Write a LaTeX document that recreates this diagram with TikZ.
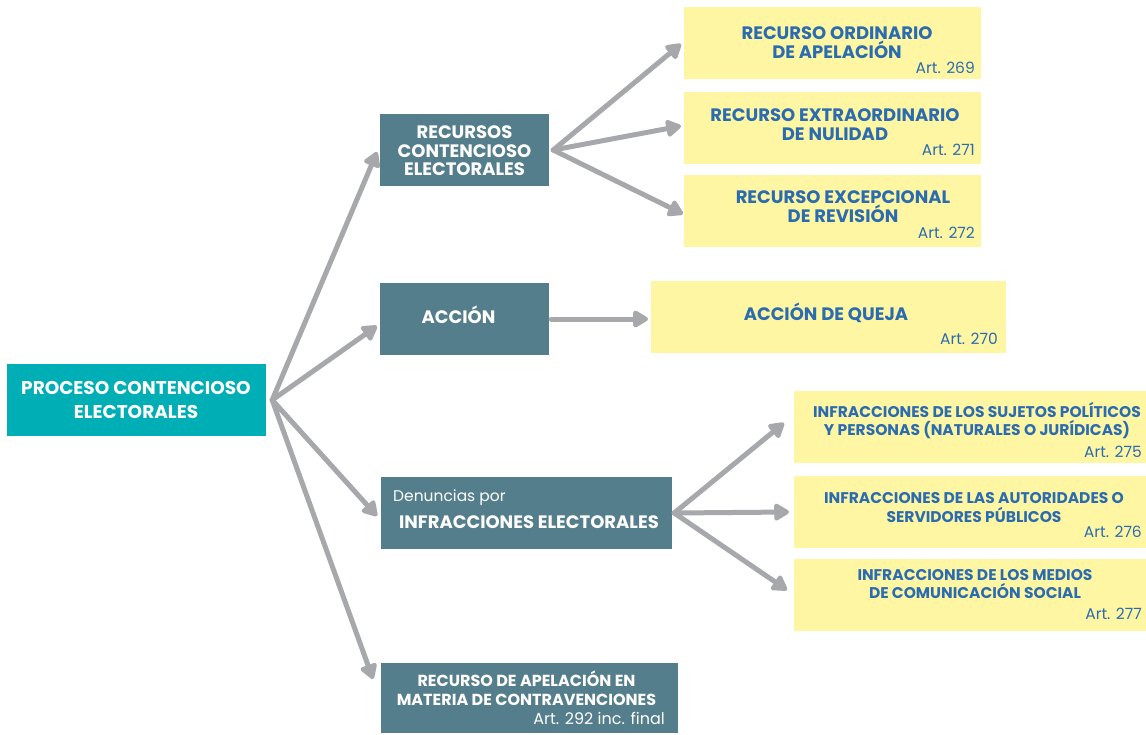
\documentclass[tikz,border=0pt]{standalone}
\usepackage{fontspec}
\setmainfont{Poppins}
\usetikzlibrary{arrows.meta}
\definecolor{tealc}{HTML}{00AEB5}
\definecolor{slatec}{HTML}{557E8C}
\definecolor{yellc}{HTML}{FFF6A3}
\definecolor{bluec}{HTML}{2B6CB0}
\definecolor{grayc}{HTML}{A7A8AB}
\tikzset{
  box/.style={inner sep=0pt, draw=none, anchor=center},
  tealbox/.style={box, fill=tealc},
  slatebox/.style={box, fill=slatec},
  yellbox/.style={box, fill=yellc},
  wtitle/.style={inner sep=0pt, align=center, text=white, font=\bfseries\fontsize{18}{18.5}\selectfont},
  ytitle/.style={inner sep=0pt, align=center, text=bluec, font=\bfseries\fontsize{18}{19}\selectfont},
  arttext/.style={inner sep=0pt, anchor=east, text=bluec, font=\fontsize{15.5}{16}\selectfont},
  conn/.style={draw=grayc, line width=5pt, line cap=round, -{Triangle[length=17pt,width=19pt,round]}}
}
\begin{document}
\begin{tikzpicture}[x=1pt,y=-1pt]
\useasboundingbox (0,0) rectangle (1146,734);
% boxes
\node[tealbox, minimum width=259, minimum height=72] (root) at (136.5,400) {};
\node[slatebox, minimum width=169, minimum height=72] (rec) at (464.5,150) {};
\node[slatebox, minimum width=169, minimum height=72] (acc) at (464.5,319) {};
\node[slatebox, minimum width=291, minimum height=72] (den) at (526.5,513) {};
\node[slatebox, minimum width=297, minimum height=70] (ape) at (529.5,698) {};
\node[yellbox, minimum width=297, minimum height=72] (y1) at (832.5,43) {};
\node[yellbox, minimum width=297, minimum height=72] (y2) at (832.5,128) {};
\node[yellbox, minimum width=297, minimum height=72] (y3) at (832.5,211) {};
\node[yellbox, minimum width=355, minimum height=72] (q) at (828.5,317) {};
\node[yellbox, minimum width=352, minimum height=72] (i1) at (970,427) {};
\node[yellbox, minimum width=352, minimum height=72] (i2) at (970,512) {};
\node[yellbox, minimum width=352, minimum height=72] (i3) at (970,595) {};
% texts
\node[wtitle, font=\bfseries\fontsize{18.5}{24}\selectfont] (troot) at (136,400) {PROCESO CONTENCIOSO\\ELECTORALES};
\node[wtitle] (trec) at (464.5,151) {RECURSOS\\CONTENCIOSO\\ELECTORALES};
\node[wtitle] (tacc) at (458.5,315) {ACCIÓN};
\node[inner sep=0pt, anchor=west, text=white, font=\fontsize{15.5}{16}\selectfont] (tden1) at (393,498) {Denuncias por};
\node[wtitle] (tden2) at (529,522) {INFRACCIONES ELECTORALES};
\node[wtitle, font=\bfseries\fontsize{16}{19}\selectfont] (tape) at (526.5,688.5) {RECURSO DE APELACIÓN EN\\MATERIA DE CONTRAVENCIONES};
\node[arttext, text=white, font=\fontsize{16}{16}\selectfont] (aape) at (665,718) {Art. 292 inc. final};
\node[ytitle] (ty1) at (837,42.5) {RECURSO ORDINARIO\\DE APELACIÓN};
\node[arttext] (ay1) at (975,68) {Art. 269};
\node[ytitle] (ty2) at (835,125) {RECURSO EXTRAORDINARIO\\DE NULIDAD};
\node[arttext] (ay2) at (975,150) {Art. 271};
\node[ytitle] (ty3) at (843,207) {RECURSO EXCEPCIONAL\\DE REVISIÓN};
\node[arttext] (ay3) at (975,233) {Art. 272};
\node[ytitle] (tq) at (826,313) {ACCIÓN DE QUEJA};
\node[arttext] (aq) at (998,339) {Art. 270};
\node[ytitle, font=\bfseries\fontsize{15.5}{18}\selectfont] (ti1) at (977,421) {INFRACCIONES DE LOS SUJETOS POLÍTICOS\\Y PERSONAS (NATURALES O JURÍDICAS)};
\node[arttext] (ai1) at (1142,452) {Art. 275};
\node[ytitle, font=\bfseries\fontsize{15.5}{19}\selectfont] (ti2) at (974,507.5) {INFRACCIONES DE LAS AUTORIDADES O\\SERVIDORES PÚBLICOS};
\node[arttext] (ai2) at (1142,532) {Art. 276};
\node[ytitle, font=\bfseries\fontsize{15.5}{18}\selectfont] (ti3) at (975,584) {INFRACCIONES DE LOS MEDIOS\\DE COMUNICACIÓN SOCIAL};
\node[arttext] (ai3) at (1142,614) {Art. 277};
% connector origins and tips
\coordinate (o0) at ([xshift=6pt]root.east);
\coordinate (o1) at ([xshift=4pt]rec.east);
\coordinate (o2) at ([xshift=2pt]acc.east);
\coordinate (o3) at ([xshift=2pt]den.east);
\coordinate (p1) at (377,152);
\coordinate (p2) at (377,326);
\coordinate (p3) at (377,516);
\coordinate (p4) at (373,679);
\coordinate (s1) at (681,44);
\coordinate (s2) at (681,126);
\coordinate (s3) at (683,214);
\coordinate (sq) at (648,319);
\coordinate (u1) at (784,423);
\coordinate (u2) at (789,512);
\coordinate (u3) at (787,590);
\draw[conn] (o0) -- (p1);
\draw[conn] (o0) -- (p2);
\draw[conn] (o0) -- (p3);
\draw[conn] (o0) -- (p4);
\draw[conn] (o1) -- (s1);
\draw[conn] (o1) -- (s2);
\draw[conn] (o1) -- (s3);
\draw[conn] (o2) -- (sq);
\draw[conn] (o3) -- (u1);
\draw[conn] (o3) -- (u2);
\draw[conn] (o3) -- (u3);
\end{tikzpicture}
\end{document}
